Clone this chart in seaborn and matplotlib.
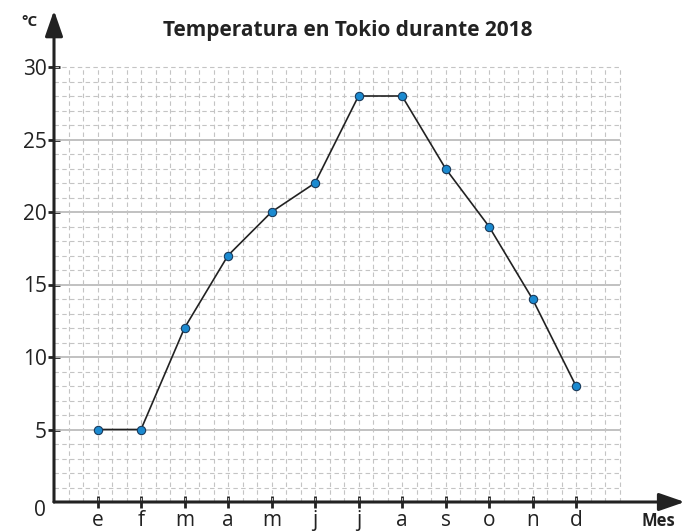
import matplotlib
matplotlib.use("Agg")
import matplotlib.pyplot as plt
import seaborn as sns
import pandas as pd
import numpy as np

# Monthly temperatures in Tokyo, 2018
months = ["e", "f", "m", "a", "m", "j", "j", "a", "s", "o", "n", "d"]
temps = [5, 5, 12, 17, 20, 22, 28, 28, 23, 19, 14, 8]
y_ticks = [5, 10, 15, 20, 25, 30]

sns.set_theme(style="white")
plt.rcParams["font.family"] = ["Open Sans", "DejaVu Sans"]

# Each month takes three grid cells along x
month_pos = [3 + 3 * i for i in range(len(months))]
df = pd.DataFrame({"pos": month_pos, "temp": temps, "mes": months})

W, H = 685, 531
fig = plt.figure(figsize=(W / 100, H / 100), dpi=100)
unit = 14.5
x0, y0 = 54, 29
xmax, ymax = 43.6, 34.0
ax = fig.add_axes([x0 / W, y0 / H, xmax * unit / W, ymax * unit / H])
ax.set_xlim(0, xmax)
ax.set_ylim(0, ymax)
for s in ax.spines.values():
    s.set_visible(False)

grid_w, grid_h = 39, 30
dash = (0, (4, 3))
# fine dashed grid, solid rules every 5 degrees
for y in range(1, grid_h + 1):
    if y % 5 == 0 and y < grid_h:
        ax.hlines(y, 0, grid_w, color="#bcbcbc", lw=1.3, zorder=1)
    else:
        ax.hlines(y, 0, grid_w, color="#c4c4c4", lw=0.8, linestyles=dash, zorder=1)
for x in range(1, grid_w + 1):
    ax.vlines(x, 0, grid_h, color="#c4c4c4", lw=0.8, linestyles=dash, zorder=1)

sns.lineplot(data=df, x="pos", y="temp", ax=ax, color="#222222", lw=1.2,
             marker="o", markersize=6, markerfacecolor="#1b8ad0",
             markeredgecolor="#1a3a5a", markeredgewidth=0.8, zorder=4, sort=False)

# axes with arrows
arrow = dict(arrowstyle="-|>,head_length=1.3,head_width=0.45", color="#222222", lw=2.2,
             shrinkA=0, shrinkB=0)
ax.annotate("", xy=(xmax - 0.1, 0), xytext=(0, 0), arrowprops=arrow,
            annotation_clip=False, zorder=5)
ax.annotate("", xy=(0, ymax - 0.1), xytext=(0, 0), arrowprops=arrow,
            annotation_clip=False, zorder=5)

ax.set_xticks(month_pos)
ax.set_xticklabels(months)
ax.set_yticks(y_ticks)
ax.set_yticklabels([str(v) for v in y_ticks])
ax.tick_params(axis="x", direction="inout", length=8, width=2, color="#222222",
               labelsize=15, pad=2, labelcolor="#222222", bottom=True)
ax.tick_params(axis="y", direction="inout", length=8, width=2, color="#222222",
               labelsize=15, pad=1, labelcolor="#222222", left=True)
ax.set_xlabel("")
ax.set_ylabel("")

fig.text(40 / W, 1 - 510 / H, "0", fontsize=15, color="#222222", ha="center", va="center")
fig.text(30 / W, 1 - 22 / H, "°C", fontsize=11, fontweight="bold", color="#222222",
         ha="center", va="center")
fig.text(658 / W, 1 - 521 / H, "Mes", fontsize=12, fontweight="bold", color="#222222",
         ha="center", va="center")
fig.text(348 / W, 1 - 31 / H, "Temperatura en Tokio durante 2018", fontsize=15,
         fontweight="bold", color="#222222", ha="center", va="center")

fig.savefig("out.png", dpi=100)
